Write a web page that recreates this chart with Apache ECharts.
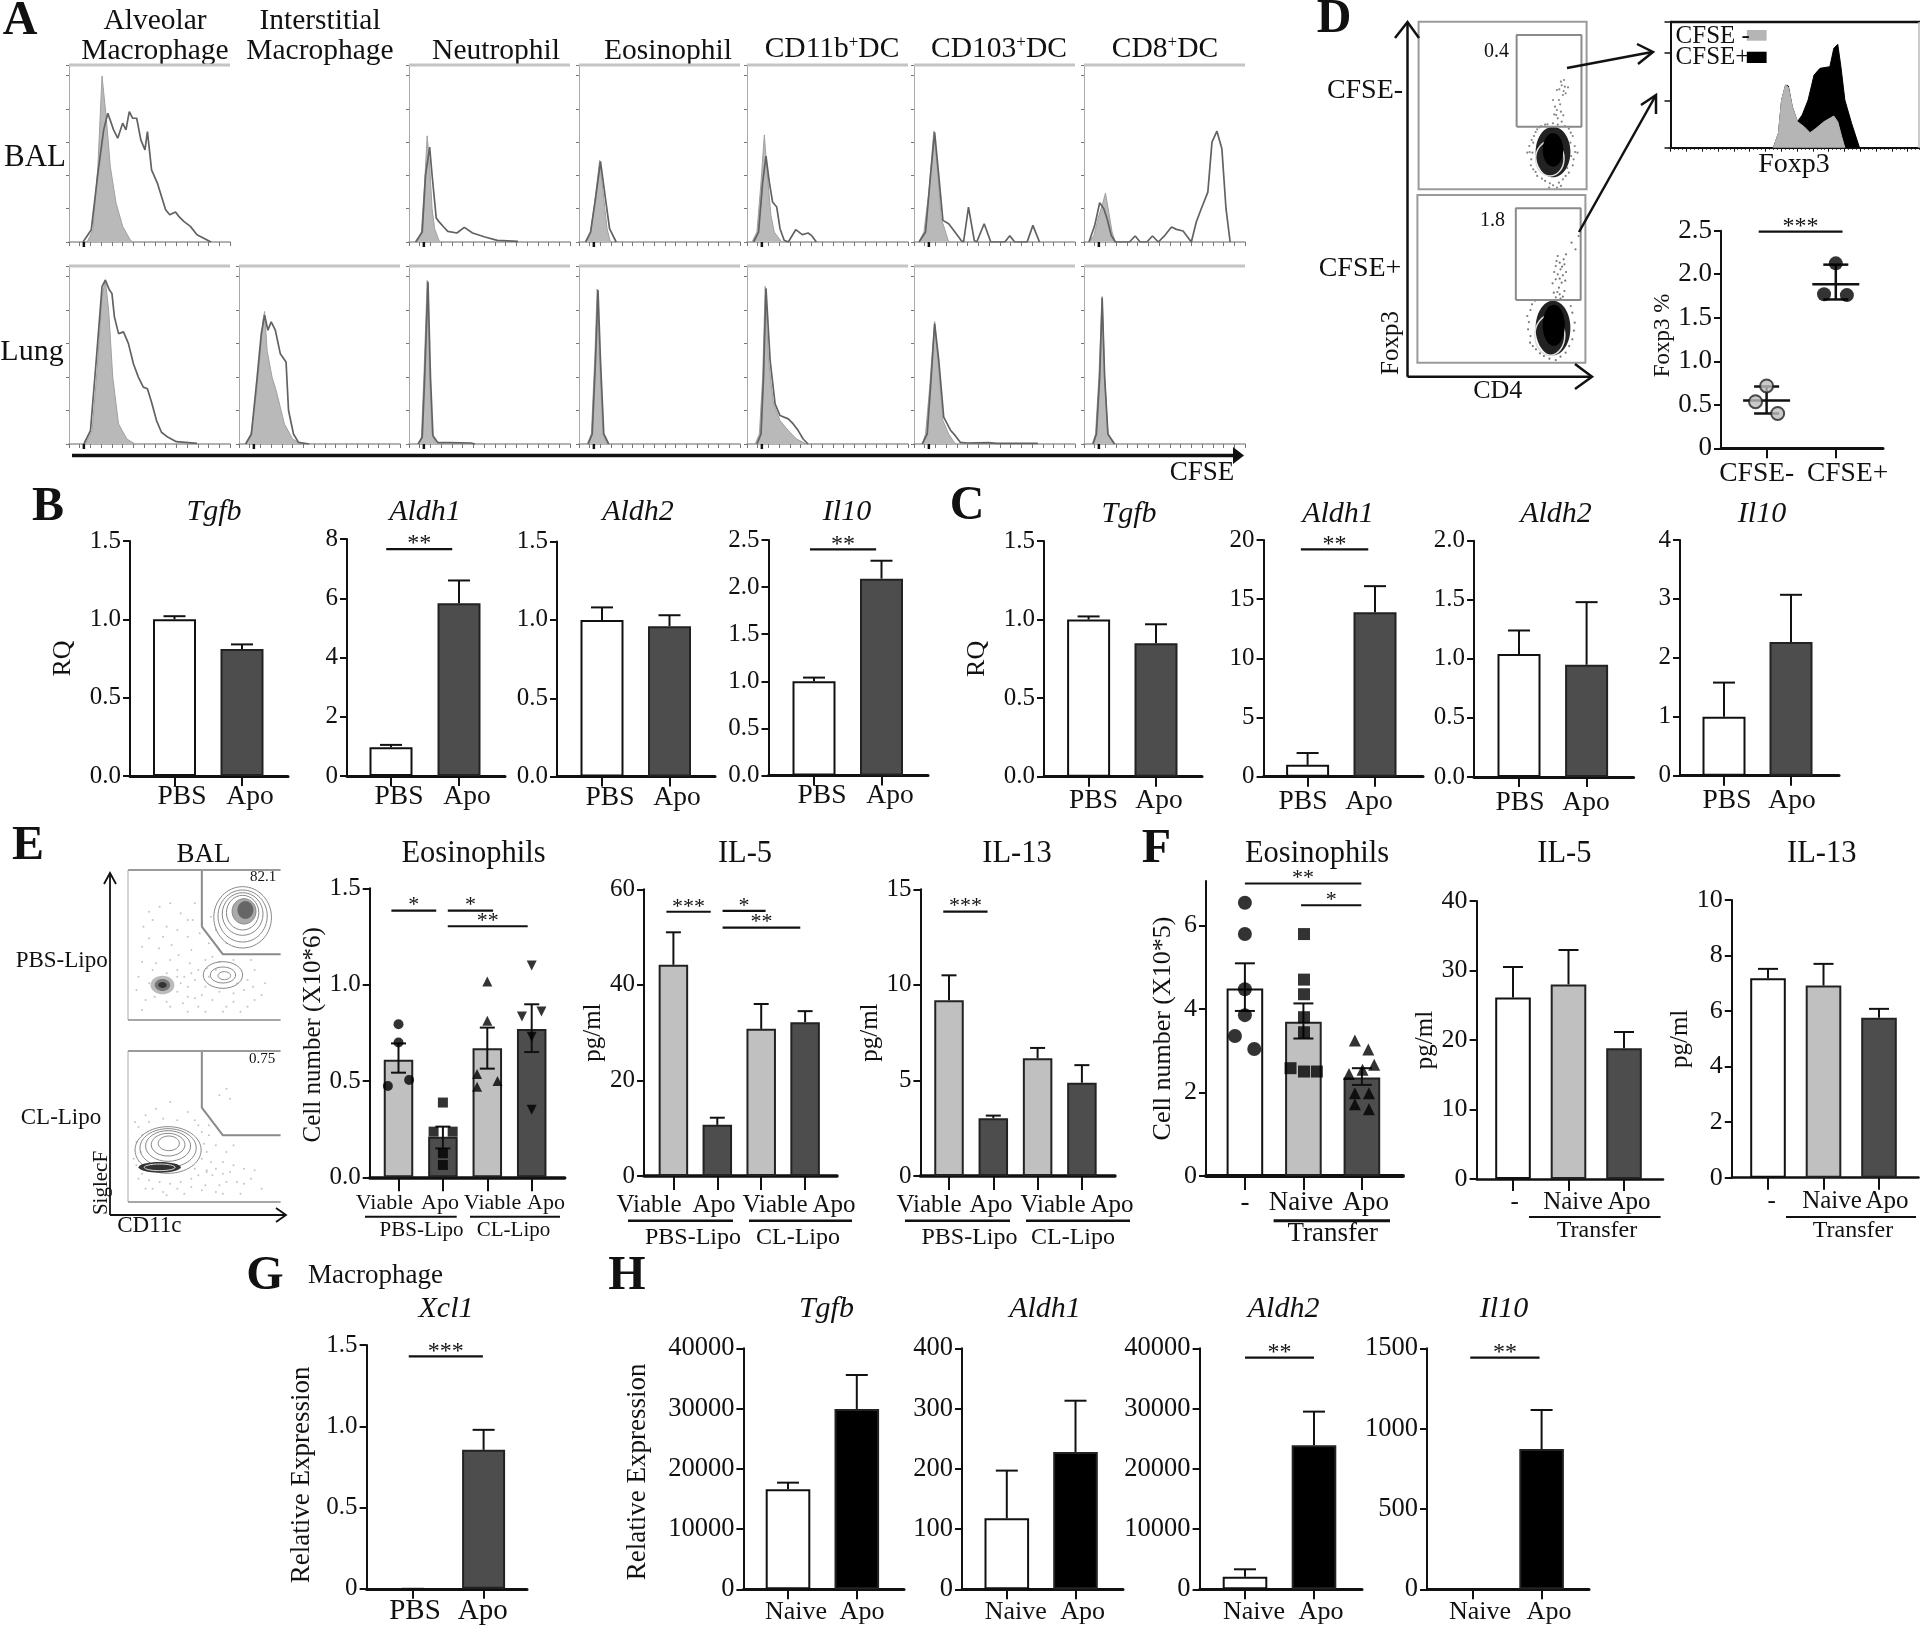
<!DOCTYPE html>
<html><head><meta charset="utf-8">
<script src="https://cdn.jsdelivr.net/npm/echarts@6/dist/echarts.min.js"></script>
<style>html,body{margin:0;padding:0;background:#fff}#c{width:1920px;height:1626px}</style>
</head><body><div id="c"></div>
<script>
// ---------- DATA: histograms, panel A ([channel, count]) ----------
const balAlveolarFill=[[22,0],[29,37],[35,227],[40,499],[45,377],[50,227],[57,117],[65,47],[74,7],[77,0]];
const balAlveolarLine=[[17,0],[27,37],[35,207],[42,337],[47,387],[54,337],[59,312],[65,357],[69,337],[73,392],[77,372],[82,372],[87,307],[92,277],[95,332],[100,217],[107,177],[117,97],[122,82],[129,90],[133,77],[139,62],[147,47],[155,22],[172,0]];
const balNeutroFill=[[10,0],[15,30],[19,180],[22,319],[25,230],[28,100],[31,40],[37,0]];
const balNeutroLine=[[8,0],[16,30],[20,200],[25,285],[28,200],[33,72],[36,62],[42,45],[47,32],[58,27],[67,44],[77,27],[92,15],[107,5],[132,2]];
const balEosFill=[[8,0],[14,30],[19,120],[25,245],[30,130],[34,40],[38,0]];
const balEosLine=[[8,0],[14,30],[20,130],[26,242],[31,150],[37,40],[45,0]];
const balCd11bFill=[[6,0],[12,30],[17,180],[21,322],[25,190],[29,80],[33,30],[42,0]];
const balCd11bLine=[[8,0],[14,30],[19,180],[23,258],[27,180],[31,120],[36,105],[40,40],[45,5],[50,0],[59,37],[67,22],[74,27],[78,20],[84,0]];
const balCd103Fill=[[6,0],[12,30],[18,150],[24,334],[29,200],[33,70],[37,40],[42,0]];
const balCd103Line=[[6,0],[14,30],[20,200],[25,330],[30,200],[35,65],[42,55],[48,35],[57,5],[60,0],[66,105],[73,5],[76,0],[85,55],[93,0],[110,0],[116,19],[122,0],[137,0],[144,50],[152,0]];
const balCd8Fill=[[6,0],[12,20],[18,80],[22,110],[26,147],[30,90],[34,30],[38,0]];
const balCd8Line=[[6,0],[13,50],[19,118],[24,100],[28,70],[33,20],[38,0],[55,0],[62,18],[68,0],[76,0],[83,18],[90,0],[98,20],[106,45],[112,38],[120,33],[130,0],[136,60],[142,100],[150,150],[155,300],[161,333],[167,280],[172,100],[177,0]];
const lungAlveolarFill=[[20,0],[28,40],[34,220],[40,440],[44,491],[48,400],[53,200],[60,60],[70,15],[80,0]];
const lungAlveolarLine=[[18,0],[26,40],[33,250],[40,470],[44,490],[49,460],[52,450],[55,380],[60,330],[66,335],[72,300],[78,240],[84,200],[90,170],[95,165],[100,125],[106,70],[112,35],[120,20],[130,7],[155,2]];
const lungInterFill=[[8,0],[14,20],[20,130],[25,250],[29,370],[31,396],[34,280],[40,200],[45,160],[55,60],[65,15],[75,0]];
const lungInterLine=[[8,0],[15,30],[22,200],[27,330],[31,385],[35,340],[39,365],[44,340],[50,270],[57,245],[60,100],[66,30],[72,5],[85,0]];
const lungNeutroFill=[[11,0],[15,20],[18,200],[22,489],[25,200],[28,30],[33,0]];
const lungNeutroLine=[[11,0],[16,20],[19,200],[23,485],[26,200],[29,25],[35,4],[50,4],[75,3],[80,0]];
const lungEosFill=[[10,0],[15,30],[19,250],[22,463],[25,250],[29,30],[34,0]];
const lungEosLine=[[11,0],[16,30],[20,250],[23,460],[26,250],[30,30],[36,0]];
const lungCd11bFill=[[10,0],[15,30],[19,200],[22,471],[26,250],[32,120],[40,70],[50,40],[60,15],[72,0]];
const lungCd11bLine=[[12,0],[17,30],[20,200],[23,465],[28,250],[34,120],[40,85],[50,75],[56,60],[62,40],[68,15],[74,0]];
const lungCd103Fill=[[10,0],[14,30],[19,170],[25,366],[30,220],[35,70],[42,30],[50,0]];
const lungCd103Line=[[10,0],[16,30],[20,170],[25,360],[30,250],[36,80],[44,42],[50,25],[56,5],[65,3],[90,4],[100,2],[120,2],[150,2]];
const lungCd8Fill=[[10,0],[14,30],[18,200],[22,441],[25,200],[29,30],[36,0]];
const lungCd8Line=[[11,0],[15,30],[19,200],[22,437],[25,200],[29,30],[37,0]];
// ---------- DATA: panel D ----------
const foxp3Gray=[[260,0],[273,43],[281,143],[291,188],[298,181],[308,123],[321,78],[338,63],[353,45],[368,58],[388,78],[413,95],[423,78],[433,33],[441,0]];
const foxp3Black=[[260,0],[273,43],[281,143],[291,188],[298,185],[308,123],[321,78],[333,98],[348,143],[363,218],[378,238],[403,243],[413,298],[423,310],[431,243],[441,143],[458,73],[478,0]];
const dFlowTopDots=[[360,323],[370,308],[350,298],[365,283],[355,268],[372,288],[345,248],[360,233],[352,213],[340,268],[368,328],[378,306],[348,223],[362,203],[356,300],[362,312],[367,295],[358,255],[350,238],[343,225],[366,222],[290,60],[285,90],[280,130],[292,160],[300,180],[385,170],[395,130],[392,90],[380,50],[365,30],[340,12],[320,25],[300,40],[310,190],[370,190],[340,198],[275,110],[402,110],[350,5],[330,5],[284,72],[281,112],[286,148],[296,172],[306,186],[320,194],[352,194],[380,182],[390,160],[396,112],[390,72],[372,40],[355,20],[332,18],[312,32],[296,52],[288,110],[290,140],[384,140],[386,100],[376,64],[326,195],[360,10]];
const dFlowBottomDots=[[355,320],[370,310],[360,300],[350,290],[372,295],[362,280],[355,265],[368,262],[350,250],[365,240],[358,225],[372,215],[345,210],[360,205],[400,340],[390,360],[408,380],[376,325],[352,305],[366,288],[376,272],[346,272],[360,252],[374,246],[342,238],[354,212],[368,198],[350,196],[362,192],[285,60],[280,100],[278,140],[290,175],[388,170],[398,120],[392,70],[375,30],[350,8],[320,20],[300,40],[286,80],[282,122],[286,158],[298,186],[392,150],[396,96],[384,50],[362,18],[334,12],[310,28],[292,50]];
const foxp3Ticks=[0,0.5,1,1.5,2,2.5], foxp3TickLabels=['0','0.5','1.0','1.5','2.0','2.5'];
const foxp3Neg=[[0.84,0.535],[1,0.716],[1.16,0.40]], foxp3Pos=[[1.83,1.77],[2,2.125],[2.16,1.76]];
const foxp3Means=[0.55,1.885], foxp3Hi=[0.71,2.11], foxp3Lo=[0.40,1.71];
// ---------- DATA: panels B, C ----------
const pbsApo=['PBS','Apo'];
const tick15=[0,0.5,1,1.5], tick15L=['0.0','0.5','1.0','1.5'];
const bTgfb=[1.0,0.81], bTgfbErr=[1.02,0.84];
const bAldh1=[0.97,5.83], bAldh1Err=[1.05,6.6], tick8=[0,2,4,6,8], tick8L=['0','2','4','6','8'];
const bAldh2=[1.0,0.96], bAldh2Err=[1.08,1.03];
const bIl10=[1.0,2.09], bIl10Err=[1.04,2.28], tick25=[0,0.5,1,1.5,2,2.5], tick25L=['0.0','0.5','1.0','1.5','2.0','2.5'];
const cTgfb=[1.0,0.85], cTgfbErr=[1.02,0.97];
const cAldh1=[1.0,13.9], cAldh1Err=[2.0,16.1], tick20=[0,5,10,15,20], tick20L=['0','5','10','15','20'];
const cAldh2=[1.04,0.95], cAldh2Err=[1.24,1.48], tick2=[0,0.5,1,1.5,2], tick2L=['0.0','0.5','1.0','1.5','2.0'];
const cIl10=[1.0,2.27], cIl10Err=[1.58,3.07], tick4=[0,1,2,3,4], tick4L=['0','1','2','3','4'];
// ---------- DATA: panels E, F ----------
const viableApo=['Viable','Apo','Viable','Apo'];
const eEos=[0.61,0.21,0.67,0.77], eEosHi=[0.695,0.263,0.777,0.898], eEosLo=[0.543,0.15,0.564,0.65];
const eEosP1=[[1,0.794],[1,0.70],[1.24,0.505],[0.76,0.474]];
const eEosP2=[[2,0.388],[2.22,0.237],[1.79,0.237],[2,0.125],[2,0.064]];
const eEosP3=[[3,1.016],[3,0.813],[2.77,0.536],[3.23,0.5],[2.77,0.47]];
const eEosP4=[[4,1.099],[3.78,0.834],[4.22,0.86],[4,0.73],[4,0.35]];
const eIl5=[44.2,10.7,30.8,32.2], eIl5Hi=[51,12.2,36,34.5];
const eIl13=[9.2,3.02,6.16,4.88], eIl13Hi=[10.5,3.16,6.7,5.8];
const dashNaiveApo=['-','Naive','Apo'];
const fEos=[4.49,3.69,2.36], fEosHi=[5.09,4.13,2.58], fEosLo=[3.95,3.29,2.18];
const fEosP1=[[1,6.54],[1,5.79],[1,4.47],[1,3.85],[0.83,3.35],[1.16,3.04]];
const fEosP2=[[2.01,5.79],[2.01,4.7],[2.01,4.35],[2.01,3.8],[2.01,3.44],[1.78,2.58],[2.01,2.5],[2.23,2.5]];
const fEosP3=[[2.88,3.24],[3.11,3.03],[3.21,2.66],[3.01,2.54],[2.78,2.44],[2.88,1.98],[3.12,1.98],[2.88,1.72],[3.12,1.6]];
const fIl5=[26.1,28,18.8], fIl5Hi=[30.5,32.95,21.15];
const fIl13=[7.18,6.92,5.76], fIl13Hi=[7.52,7.7,6.08];
const eFlowTopContours=[[163,308,41,92],[163,312,35,78],[163,318,29,64],[163,322,23,52],[165,326,17,38],[167,330,11,26],[168,335,5,12]];
const eFlowTopRing=[[135,135,28,40],[135,135,18,24],[137,133,9,12]];
const eFlowTopSpot=[[49,105,17,28],[49,105,11,18],[49,105,6,9]];
const eFlowTopDots=[[20,220],[35,300],[50,250],[60,180],[75,320],[90,210],[40,170],[15,130],[25,60],[60,40],[85,70],[100,150],[110,100],[120,60],[140,40],[150,80],[170,120],[180,60],[160,25],[75,110],[90,140],[100,40],[20,30],[45,340],[70,270],[95,350],[105,290],[115,230],[130,210],[140,230],[180,150],[195,110],[30,110],[70,85],[85,100],[120,190],[22,280],[30,245],[44,215],[55,280],[62,225],[72,195],[85,250],[92,300],[102,260],[110,180],[125,150],[115,130],[88,170],[70,150],[55,140],[35,150],[20,175],[12,90],[38,70],[55,55],[78,50],[95,65],[105,75],[130,85],[150,55],[165,90],[178,100],[190,75],[135,25],[110,25],[85,25],[70,130],[80,130],[95,120],[112,155],[130,175],[150,180],[175,180],[170,40],[155,110],[30,325],[60,350],[85,300],[125,270],[118,310]];
const eFlowBottomContours=[[57,156,47,70],[57,162,40,58],[57,168,32,46],[57,172,24,34],[58,176,15,22]];
const eFlowBottomSpot=[[45,104,30,16],[45,104,22,10]];
const eFlowBottomDots=[[10,240],[25,260],[40,280],[60,300],[85,270],[100,230],[115,200],[125,170],[135,120],[145,90],[155,60],[165,100],[120,80],[110,50],[90,45],[70,40],[50,30],[35,40],[15,70],[8,130],[130,50],[135,25],[175,70],[190,40],[130,320],[140,340],[145,310],[105,130],[95,100],[20,200],[140,150],[150,170],[12,180],[18,150],[12,110],[20,85],[30,65],[45,60],[60,55],[75,60],[90,70],[100,80],[112,95],[118,120],[112,150],[108,175],[112,90],[125,100],[135,85],[150,110],[165,55],[180,95],[15,225],[30,240],[50,250],[70,245],[95,245],[105,210],[115,230],[25,40],[55,20],[80,25],[105,35],[140,60],[125,30],[160,25]];
// ---------- DATA: panels G, H ----------
const naiveApo=['Naive','Apo'];
const gXcl1=[0,0.855], gXcl1Err=[0,0.978];
const hTgfb=[16600,29930], hTgfbErr=[17700,35570], tick40k=[0,10000,20000,30000,40000], tick40kL=['0','10000','20000','30000','40000'];
const hAldh1=[118,228], hAldh1Err=[197,313], tick400=[0,100,200,300,400], tick400L=['0','100','200','300','400'];
const hAldh2=[2100,23900], hAldh2Err=[3320,29490];
const hIl10=[0,873], hIl10Err=[0,1116], tick1500=[0,500,1000,1500], tick1500L=['0','500','1000','1500'];

// ---------- BUILD ----------
const FONT='"Liberation Serif"', INK='#111';
const WHITE='#ffffff', DARK='#4d4d4d', LIGHT='#c0c0c0', BLACK='#000000';
const option={animation:false,backgroundColor:'#fff',title:[],grid:[],xAxis:[],yAxis:[],series:[],graphic:[{elements:[]}]};
const G=option.graphic[0].elements;
function T(text,x,y,size,extra){extra=extra||{};
  G.push({type:'text',x,y,rotation:extra.rot||0,z:50,style:Object.assign({text,font:(extra.bold?'bold ':'')+(extra.italic?'italic ':'')+size+'px '+FONT,fill:INK,textAlign:extra.align||'center',textVerticalAlign:'middle'},extra.style||{})});}
function L(x1,y1,x2,y2,w,color){G.push({type:'line',z:40,shape:{x1,y1,x2,y2},style:{stroke:color||INK,lineWidth:w||2}});}
function P(points,w,color){G.push({type:'polyline',z:40,shape:{points},style:{stroke:color||INK,lineWidth:w||2,fill:null}});}
function Title(text,x,y,size,italic,rich){
  option.title.push({text,left:x,top:y,padding:0,textAlign:'center',textVerticalAlign:'middle',
    textStyle:{fontFamily:FONT,fontSize:size,fontWeight:'normal',fontStyle:italic?'italic':'normal',color:INK,lineHeight:30,rich:rich||undefined}});}

function errSeries(gi,rows,cap,hasLo,w){
  return {type:'custom',xAxisIndex:gi,yAxisIndex:gi,z:6,clip:false,silent:true,data:rows,encode:{x:0,y:1},
    renderItem:(p,api)=>{const x=api.value(0),a=api.coord([x,api.value(1)]),b=api.coord([x,api.value(2)]);
      const st={stroke:INK,lineWidth:w||2};
      const kids=[{type:'line',shape:{x1:a[0],y1:a[1],x2:b[0],y2:b[1]},style:st},
        {type:'line',shape:{x1:a[0]-cap/2,y1:a[1],x2:a[0]+cap/2,y2:a[1]},style:st}];
      if(hasLo)kids.push({type:'line',shape:{x1:b[0]-cap/2,y1:b[1],x2:b[0]+cap/2,y2:b[1]},style:st});
      return {type:'group',children:kids};}};
}
function barPanel(o){
  const gi=option.grid.length, sep=o.c[1]-o.c[0], unit=px=>1+(px-o.c[0])/sep;
  const fs=o.fs||27.5, tf=o.tf||25, s=o.nameShift||0;
  option.grid.push({left:o.ax,top:o.top,width:o.end-o.ax,height:o.base-o.top,containLabel:false});
  const xl=(o.labelPx).map(unit);
  option.xAxis.push({type:'value',gridIndex:gi,min:unit(o.ax),max:unit(o.end),splitLine:{show:false},
    axisLine:{show:true,onZero:false,lineStyle:{color:INK,width:o.xw||3}},
    axisTick:{show:true,length:o.xt||10,customValues:o.c.map(unit),lineStyle:{color:INK,width:2}},
    axisLabel:{show:true,customValues:xl,showMinLabel:true,showMaxLabel:true,margin:o.labelY-o.base-fs/2,verticalAlign:'top',
      fontFamily:FONT,fontSize:fs,color:INK,lineHeight:fs,
      formatter:v=>{let b=0;xl.forEach((u,i)=>{if(Math.abs(u-v)<Math.abs(xl[b]-v))b=i;});return o.labels[b];}}});
  option.yAxis.push({type:'value',gridIndex:gi,min:0,max:o.ymax,splitLine:{show:false},
    name:o.name||'',nameLocation:'middle',nameRotate:90,nameGap:o.nameGap||50,
    nameTextStyle:{fontFamily:FONT,fontSize:o.nameSize||24,color:INK,padding:s>0?[0,2*s,0,0]:[0,0,0,-2*s]},
    axisLine:{show:true,onZero:false,lineStyle:{color:INK,width:2}},
    axisTick:{show:true,length:7,customValues:o.ticks,lineStyle:{color:INK,width:2}},
    axisLabel:{show:true,customValues:o.ticks,showMinLabel:true,showMaxLabel:true,margin:9,fontFamily:FONT,fontSize:tf,color:INK,
      formatter:v=>{const i=o.ticks.findIndex(t=>Math.abs(t-v)<1e-9);return i<0?'':o.tickLabels[i];}}});
  if(o.values&&o.values.length){
    option.series.push({type:'bar',xAxisIndex:gi,yAxisIndex:gi,barWidth:o.barW,z:3,clip:false,silent:true,
      data:o.values.map((v,i)=>({value:[i+1,v],itemStyle:{color:o.colors[i],borderColor:v===0?'transparent':(o.colors[i]===WHITE?INK:'#222'),borderWidth:2}}))});
    option.series.push(errSeries(gi,o.values.map((v,i)=>[i+1,o.hi[i],o.lo?o.lo[i]:v]),o.cap||22,!!o.lo));
  }
  (o.points||[]).forEach(s=>{
    option.series.push({type:'scatter',xAxisIndex:gi,yAxisIndex:gi,z:8,clip:false,silent:true,data:s.data,symbol:s.symbol,symbolRotate:s.rot||0,symbolSize:s.size||o.psize||11,
      itemStyle:s.style||{color:BLACK}});});
  if(o.sig&&o.sig.length){
    option.series.push({type:'custom',xAxisIndex:gi,yAxisIndex:gi,z:9,clip:false,silent:true,data:o.sig.map(s=>[s[0],s[2]]),encode:{x:0,y:1},
      renderItem:(p,api)=>{const s=o.sig[p.dataIndex],a=api.coord([s[0],s[2]]),b=api.coord([s[1],s[2]]);
        return {type:'group',children:[{type:'line',shape:{x1:a[0],y1:a[1],x2:b[0],y2:b[1]},style:{stroke:INK,lineWidth:2.2}},
          {type:'text',style:{x:(a[0]+b[0])/2,y:a[1]-5,text:s[3],font:(o.sigSize||24)+'px '+FONT,fill:INK,textAlign:'center',textVerticalAlign:'middle'}}]};}});
  }
  return gi;
}
function hist(left,top,w,h,fill,line){
  const gi=option.grid.length;
  option.grid.push({left,top,width:w,height:h});
  option.xAxis.push({type:'value',gridIndex:gi,min:0,max:195,interval:13,splitLine:{show:false},axisLabel:{show:false},
    axisLine:{show:true,onZero:false,lineStyle:{color:'#999',width:1.5}},axisTick:{show:true,length:4,lineStyle:{color:'#777',width:1}}});
  option.yAxis.push({type:'value',gridIndex:gi,min:0,max:532,interval:100,splitLine:{show:false},axisLabel:{show:false},
    axisLine:{show:true,onZero:false,lineStyle:{color:'#aaa',width:1}},axisTick:{show:true,length:3,lineStyle:{color:'#777',width:1}}});
  option.series.push({type:'line',xAxisIndex:gi,yAxisIndex:gi,data:fill,showSymbol:false,silent:true,lineStyle:{color:'#a0a0a0',width:1},areaStyle:{color:'#b9b9b9',opacity:1},z:2});
  option.series.push({type:'line',xAxisIndex:gi,yAxisIndex:gi,data:line,showSymbol:false,silent:true,lineStyle:{color:'#626262',width:1.7},z:3});
  L(left,top,left+w,top,3,'#c4c4c4');
  L(left+18/195*w,top+h,left+18/195*w,top+h+5,2.5,INK);
}
function ellipseSeries(gi,rows,style,z){
  return {type:'custom',xAxisIndex:gi,yAxisIndex:gi,z,silent:true,clip:false,data:rows,encode:{x:0,y:1},
    renderItem:(p,api)=>{const c=api.coord([api.value(0),api.value(1)]),s=api.size([api.value(2),api.value(3)]);
      return {type:'ellipse',shape:{cx:c[0],cy:c[1],rx:s[0],ry:s[1]},style};}};
}
function flow(o){
  const gi=option.grid.length;
  option.grid.push({left:o.left,top:o.top,width:o.w,height:o.h});
  option.xAxis.push({type:'value',gridIndex:gi,min:0,max:o.xMax,show:false});
  option.yAxis.push({type:'value',gridIndex:gi,min:0,max:o.yMax,show:false});
  option.series.push({type:'scatter',xAxisIndex:gi,yAxisIndex:gi,data:o.dots,symbolSize:o.dotSize||2,silent:true,itemStyle:{color:o.dotColor||'#777'},z:2});
  (o.layers||[]).forEach((l,i)=>option.series.push(ellipseSeries(gi,l.rows,l.style,3+i)));
  if(o.gate)option.series.push({type:'line',xAxisIndex:gi,yAxisIndex:gi,data:o.gate,showSymbol:false,silent:true,lineStyle:{color:'#8a8a8a',width:2},z:20,clip:false});
  return gi;
}
// Panel A
const histX=[69,239,409,579,747,914,1084], histW=161;
[[0,balAlveolarFill,balAlveolarLine],[2,balNeutroFill,balNeutroLine],[3,balEosFill,balEosLine],[4,balCd11bFill,balCd11bLine],[5,balCd103Fill,balCd103Line],[6,balCd8Fill,balCd8Line]].forEach(r=>hist(histX[r[0]],65,histW,177,r[1],r[2]));
[[0,lungAlveolarFill,lungAlveolarLine],[1,lungInterFill,lungInterLine],[2,lungNeutroFill,lungNeutroLine],[3,lungEosFill,lungEosLine],[4,lungCd11bFill,lungCd11bLine],[5,lungCd103Fill,lungCd103Line],[6,lungCd8Fill,lungCd8Line]].forEach(r=>hist(histX[r[0]],266,histW,178,r[1],r[2]));
const supRich={a:{fontFamily:FONT,fontSize:29.5,color:INK},s:{fontFamily:FONT,fontSize:17,color:INK,verticalAlign:'top',padding:[0,0,8,0]}};
Title('Alveolar\nMacrophage',155,36,29.5);Title('Interstitial\nMacrophage',320,36,29.5);
Title('Neutrophil',496,51,29.5);Title('Eosinophil',668,51,29.5);
Title('{a|CD11b}{s|+}{a|DC}',832,49,29.5,false,supRich);Title('{a|CD103}{s|+}{a|DC}',999,49,29.5,false,supRich);Title('{a|CD8}{s|+}{a|DC}',1165,49,29.5,false,supRich);
T('BAL',35,158,31);T('Lung',32,352,30);T('CFSE',1202,473,27);
L(72,455.5,1234,455.5,3.5);
G.push({type:'polygon',z:40,shape:{points:[[1233,447],[1244,455.5],[1233,464]]},style:{fill:INK}});
// Panel D
flow({left:1418.6,top:21.7,w:168,h:167.6,xMax:425,yMax:503,dots:dFlowTopDots,dotColor:'#666',dotSize:2.2,gate:[[248,188],[412,188],[412,463],[248,463],[248,188]],
  layers:[{rows:[[340,112,44,76]],style:{fill:'#222',stroke:null}},{rows:[[332,92,36,52]],style:{fill:null,stroke:'#ddd',lineWidth:1.5}},{rows:[[340,118,26,50]],style:{fill:'#000'}}]});
flow({left:1417.4,top:195,w:168,h:167.7,xMax:425,yMax:503,dots:dFlowBottomDots,dotColor:'#555',dotSize:2.2,gate:[[249,188],[413,188],[413,463],[249,463],[249,188]],
  layers:[{rows:[[343,104,44,82]],style:{fill:'#222'}},{rows:[[335,82,38,60]],style:{fill:null,stroke:'#ddd',lineWidth:1.5}},{rows:[[345,112,28,62]],style:{fill:'#000'}}]});
G.push({type:'rect',z:30,shape:{x:1418.6,y:21.7,width:168,height:167.6},style:{fill:null,stroke:'#9a9a9a',lineWidth:2}});
G.push({type:'rect',z:30,shape:{x:1417.4,y:195,width:168,height:167.7},style:{fill:null,stroke:'#9a9a9a',lineWidth:2}});
L(1407.5,376.7,1407.5,23,2.5);L(1407.5,376.7,1592,376.7,2.5);
P([[1395,38],[1407.5,22],[1419,38]],2.5);P([[1575,364],[1592,376.7],[1575,389]],2.5);
L(1567,68,1652,52,2.5);P([[1637,44],[1653,52],[1638,64]],2.5);
L(1579,232,1656,95,2.5);P([[1641,105],[1656,95],[1656,114]],2.5);
T('0.4',1496.5,52,20);T('1.8',1492.5,221,20);T('CFSE-',1365,91,28);T('CFSE+',1360,269,28);
T('Foxp3',1391.7,343,25,{rot:Math.PI/2});T('CD4',1497.7,391,26);
// D histogram
(function(){const gi=option.grid.length;
  option.grid.push({left:1670.5,top:21.7,width:249.5,height:126});
  option.xAxis.push({type:'value',gridIndex:gi,min:0,max:631,interval:40,splitLine:{show:false},axisLabel:{show:false},
    axisLine:{show:true,onZero:false,lineStyle:{color:INK,width:2}},axisTick:{show:true,length:4,lineStyle:{color:INK,width:1}},
    minorTick:{show:true,splitNumber:4,length:2,lineStyle:{color:INK,width:1}}});
  option.yAxis.push({type:'value',gridIndex:gi,min:0,max:378,interval:142,splitLine:{show:false},axisLabel:{show:false},
    axisLine:{show:true,onZero:false,lineStyle:{color:INK,width:2}},axisTick:{show:true,length:6,lineStyle:{color:INK,width:1.5}}});
  option.series.push({type:'line',xAxisIndex:gi,yAxisIndex:gi,data:foxp3Black,showSymbol:false,silent:true,lineStyle:{color:BLACK,width:1},areaStyle:{color:BLACK,opacity:1},z:2});
  option.series.push({type:'line',xAxisIndex:gi,yAxisIndex:gi,data:foxp3Gray,showSymbol:false,silent:true,lineStyle:{color:'#b5b5b5',width:1},areaStyle:{color:'#b5b5b5',opacity:1},z:3});
  L(1670.5,22,1920,22,2.5);L(1919,22,1919,148,1.5,'#bbb');
})();
G.push({type:'rect',z:40,shape:{x:1746.8,y:30,width:19.8,height:10.7},style:{fill:'#b5b5b5'}});
G.push({type:'rect',z:40,shape:{x:1746.8,y:51.7,width:19.8,height:11.3},style:{fill:BLACK}});
T('CFSE -',1675.6,36.7,25,{align:'left'});T('CFSE+',1675.6,57,25,{align:'left'});
T('Foxp3',1794,165,28);
// D scatter
const dGi=barPanel({ax:1721,top:230.7,base:448.3,end:1883,c:[1766.6,1835.8],ymax:2.5,ticks:foxp3Ticks,tickLabels:foxp3TickLabels,labels:['CFSE-','CFSE+'],labelPx:[1756.7,1847.6],labelY:474,fs:27.5,tf:27,
  name:'Foxp3 %',nameGap:40,nameSize:23,nameShift:-4,sig:[[0.886,2.097,2.49,'***']],
  points:[{data:foxp3Neg,symbol:'circle',size:13,style:{color:'#bdbdbd',borderColor:'#222',borderWidth:2}},{data:foxp3Pos,symbol:'circle',size:14,style:{color:BLACK}}]});
option.series.push(errSeries(dGi,[[1,foxp3Hi[0],foxp3Lo[0]],[2,foxp3Hi[1],foxp3Lo[1]]],25,true,2.5));
option.series.push(errSeries(dGi,[[1,foxp3Means[0],foxp3Means[0]],[2,foxp3Means[1],foxp3Means[1]]],47,false,2.5));
// Panel B
const twoTone=[WHITE,DARK], whiteBlack=[WHITE,BLACK];
barPanel({ax:130,top:541,base:776,end:288,c:[174.5,242],ymax:1.5,ticks:tick15,tickLabels:tick15L,values:bTgfb,hi:bTgfbErr,colors:twoTone,barW:43,labels:pbsApo,labelPx:[182,250],labelY:797,name:'RQ',nameGap:54,nameSize:26});
barPanel({ax:347,top:539,base:776,end:505,c:[391,459],ymax:8,ticks:tick8,tickLabels:tick8L,values:bAldh1,hi:bAldh1Err,colors:twoTone,barW:43,labels:pbsApo,labelPx:[399,467],labelY:797,sig:[[0.93,1.90,7.66,'**']]});
barPanel({ax:557,top:541.6,base:776.6,end:715,c:[602,669.5],ymax:1.5,ticks:tick15,tickLabels:tick15L,values:bAldh2,hi:bAldh2Err,colors:twoTone,barW:43,labels:pbsApo,labelPx:[610,677],labelY:798});
barPanel({ax:768.5,top:540,base:775.6,end:928,c:[814,881.5],ymax:2.5,ticks:tick25,tickLabels:tick25L,values:bIl10,hi:bIl10Err,colors:twoTone,barW:43,labels:pbsApo,labelPx:[822,890],labelY:796,sig:[[0.94,1.92,2.40,'**']]});
Title('Tgfb',214,512,30,true);Title('Aldh1',425,512,30,true);Title('Aldh2',638,512,30,true);Title('Il10',847,512,30,true);
// Panel C
barPanel({ax:1044,top:541,base:776.7,end:1202,c:[1088.6,1156],ymax:1.5,ticks:tick15,tickLabels:tick15L,values:cTgfb,hi:cTgfbErr,colors:twoTone,barW:43,labels:pbsApo,labelPx:[1093.5,1159],labelY:801,name:'RQ',nameGap:54,nameSize:26});
barPanel({ax:1263.6,top:540,base:776.7,end:1423,c:[1307.6,1375],ymax:20,ticks:tick20,tickLabels:tick20L,values:cAldh1,hi:cAldh1Err,colors:twoTone,barW:43,labels:pbsApo,labelPx:[1303,1369],labelY:802,sig:[[0.90,1.90,19.2,'**']]});
barPanel({ax:1474,top:540.7,base:777,end:1633.6,c:[1519,1586.6],ymax:2,ticks:tick2,tickLabels:tick2L,values:cAldh2,hi:cAldh2Err,colors:twoTone,barW:43,labels:pbsApo,labelPx:[1520,1586],labelY:803});
barPanel({ax:1680,top:540,base:775.7,end:1839,c:[1724,1791],ymax:4,ticks:tick4,tickLabels:tick4L,values:cIl10,hi:cIl10Err,colors:twoTone,barW:43,labels:pbsApo,labelPx:[1727,1792],labelY:801});
Title('Tgfb',1129,514,30,true);Title('Aldh1',1338,514,30,true);Title('Aldh2',1556,514,30,true);Title('Il10',1762,514,30,true);
// Panel E flow
const ring={fill:null,stroke:'#888',lineWidth:1};
flow({left:128,top:870,w:152.6,h:150,xMax:217,yMax:450,dots:eFlowTopDots,dotColor:'#b5b5b5',dotSize:2,gate:[[105,450],[105,280],[135,197],[217,197]],
  layers:[{rows:eFlowTopSpot.slice(0,1),style:{fill:'#bbb'}},{rows:eFlowTopSpot.slice(1,2),style:{fill:'#777'}},{rows:eFlowTopSpot.slice(2),style:{fill:'#333'}},
    {rows:eFlowTopRing,style:ring},{rows:eFlowTopContours.slice(4,5),style:{fill:'#aaa'}},{rows:eFlowTopContours,style:ring},{rows:eFlowTopContours.slice(5),style:{fill:'#666'}}]});
flow({left:128,top:1051,w:152.6,h:151,xMax:217,yMax:453,dots:eFlowBottomDots,dotColor:'#b5b5b5',dotSize:2,gate:[[105,453],[105,283],[135,200],[217,200]],
  layers:[{rows:eFlowBottomContours,style:ring},{rows:eFlowBottomSpot.slice(0,1),style:{fill:'#333'}},{rows:eFlowBottomSpot.slice(1),style:{fill:null,stroke:'#ddd',lineWidth:1}}]});
[[870,1020],[1051,1202]].forEach(r=>{L(128,r[0],280.6,r[0],2,'#9a9a9a');L(128,r[0],128,r[1],1,'#aaa');L(128,r[1],280.6,r[1],1.5,'#888');});
T('82.1',263,877,15);T('0.75',262,1059,15);
L(110,1215,110,874,1.8);L(110,1215,286,1215,1.8);P([[104,884],[110,873],[116,884]],1.8);P([[276,1208],[286,1215],[276,1222]],1.8);
T('BAL',203.4,855,27);T('PBS-Lipo',61.7,961,23);T('CL-Lipo',61,1118,23);T('SiglecF',101.7,1183,21,{rot:Math.PI/2});T('CD11c',149.4,1226,23);
// Panel E bars
const fourTone=[LIGHT,DARK,LIGHT,DARK], threeTone=[WHITE,LIGHT,DARK];
barPanel({ax:369.7,top:888.3,base:1177.3,end:564.7,c:[398.5,442.9,487.3,531.7],ymax:1.5,ticks:tick15,tickLabels:tick15L,values:eEos,hi:eEosHi,lo:eEosLo,colors:fourTone,barW:29.5,cap:15,xw:3.5,xt:14,
  labels:viableApo,labelPx:[384.4,440,492.5,546],labelY:1203,fs:22,name:'Cell number (X10*6)',nameGap:44,nameSize:25,nameShift:2,psize:10,sigSize:22,
  sig:[[0.84,1.85,1.384,'*'],[2.11,3.13,1.384,'*'],[2.11,3.91,1.303,'**']],
  points:[{data:eEosP1,symbol:'circle'},{data:eEosP2,symbol:'rect'},{data:eEosP3,symbol:'triangle'},{data:eEosP4,symbol:'triangle',rot:180}]});
barPanel({ax:644,top:889.3,base:1176,end:837,c:[673.4,717.3,761.2,805],ymax:60,ticks:[0,20,40,60],tickLabels:['0','20','40','60'],values:eIl5,hi:eIl5Hi,colors:fourTone,barW:29.5,cap:15,xw:3.5,xt:14,
  labels:viableApo,labelPx:[649,714,775,834],labelY:1205,fs:25,name:'pg/ml',nameGap:36,nameSize:25,sigSize:22,
  sig:[[0.84,1.85,55.3,'***'],[2.12,3.1,55.5,'*'],[2.12,3.89,52,'**']]});
barPanel({ax:920.4,top:889.3,base:1176,end:1115,c:[949,993.3,1037.6,1082],ymax:15,ticks:[0,5,10,15],tickLabels:['0','5','10','15'],values:eIl13,hi:eIl13Hi,colors:fourTone,barW:29.5,cap:15,xw:3.5,xt:14,
  labels:viableApo,labelPx:[929,991,1053,1112],labelY:1205,fs:25,name:'pg/ml',nameGap:35,nameSize:25,sigSize:22,
  sig:[[0.87,1.87,13.83,'***']]});
Title('Eosinophils',473.5,854,30.5);Title('IL-5',745,854,30.5);Title('IL-13',1017,854,30.5);
L(365,1216.7,456.7,1216.7,2);L(470,1216.7,560,1216.7,2);T('PBS-Lipo',421.6,1230,21);T('CL-Lipo',513.5,1230,21);
L(628,1220.7,733,1220.7,2.5);L(749,1220.7,852,1220.7,2.5);T('PBS-Lipo',693,1238,24);T('CL-Lipo',798,1238,24);
L(905,1220.7,1010,1220.7,2.5);L(1026,1220.7,1130,1220.7,2.5);T('PBS-Lipo',969.5,1238,24);T('CL-Lipo',1073,1238,24);
// Panel F
barPanel({ax:1206,top:881,base:1176,end:1403,c:[1244.9,1303.4,1362],ymax:7.06,ticks:[0,2,4,6],tickLabels:['0','2','4','6'],values:fEos,hi:fEosHi,lo:fEosLo,colors:threeTone,barW:36.6,cap:20,xw:4,xt:14,tf:26,
  labels:dashNaiveApo,labelPx:[1245,1301,1365.7],labelY:1203,fs:27,name:'Cell number (X10*5)',nameGap:30,nameSize:26,psize:14,sigSize:22,
  sig:[[1,2.99,7.0,'**'],[1.96,2.99,6.48,'*']],
  points:[{data:fEosP1,symbol:'circle'},{data:fEosP2,symbol:'rect',size:12},{data:fEosP3,symbol:'triangle',size:12}]});
barPanel({ax:1476.6,top:901,base:1179,end:1663,c:[1513,1568.5,1624],ymax:40,ticks:[0,10,20,30,40],tickLabels:['0','10','20','30','40'],values:fIl5,hi:fIl5Hi,colors:threeTone,barW:35.6,cap:20,xw:2.5,xt:12,tf:26,
  labels:dashNaiveApo,labelPx:[1514.7,1573,1629],labelY:1202,fs:25,name:'pg/ml',nameGap:35,nameSize:25});
barPanel({ax:1731.8,top:900,base:1177.7,end:1918.5,c:[1768,1823.5,1879],ymax:10,ticks:[0,2,4,6,8,10],tickLabels:['0','2','4','6','8','10'],values:fIl13,hi:fIl13Hi,colors:threeTone,barW:35.6,cap:20,xw:2.5,xt:12,tf:26,
  labels:dashNaiveApo,labelPx:[1771.6,1832,1887],labelY:1201,fs:25,name:'pg/ml',nameGap:30,nameSize:25});
Title('Eosinophils',1317,854,30.5);Title('IL-5',1564.4,854,30.5);Title('IL-13',1821.7,854,30.5);
L(1273.6,1220.7,1390,1220.7,3);T('Transfer',1332.7,1234,27);
L(1529,1217,1660.6,1217,2.2);T('Transfer',1597,1231,24);
L(1786,1217,1916,1217,2.2);T('Transfer',1853,1231,24);
// Panel G
barPanel({ax:366.6,top:1345,base:1589.3,end:527,c:[413,483.6],ymax:1.5,ticks:tick15,tickLabels:['0','0.5','1.0','1.5'],values:gXcl1,hi:gXcl1Err,colors:twoTone,barW:43,xt:10,
  labels:pbsApo,labelPx:[415,482.7],labelY:1612,fs:29,name:'Relative Expression',nameGap:51,nameSize:27,nameShift:8,sig:[[0.94,1.99,1.43,'***']]});
T('Macrophage',375.5,1276,27);Title('Xcl1',446,1309,30,true);
// Panel H
const hBase={top:1348.3,base:1589.3,ymax:0,colors:whiteBlack,barW:44.6,labels:naiveApo,labelY:1612,fs:26,tf:26.5,xt:10,cap:22};
barPanel(Object.assign({},hBase,{ax:743.4,end:904,c:[788,856.8],ymax:40000,ticks:tick40k,tickLabels:tick40kL,values:hTgfb,hi:hTgfbErr,labelPx:[796,862],name:'Relative Expression',nameGap:92,nameSize:27,nameShift:3}));
barPanel(Object.assign({},hBase,{ax:962,end:1123,c:[1006.8,1075.5],ymax:400,ticks:tick400,tickLabels:tick400L,values:hAldh1,hi:hAldh1Err,labelPx:[1015.7,1082.7]}));
barPanel(Object.assign({},hBase,{ax:1199.6,end:1362,c:[1245,1314],ymax:40000,ticks:tick40k,tickLabels:tick40kL,values:hAldh2,hi:hAldh2Err,labelPx:[1254,1321],sig:[[1,2,38450,'**']]}));
barPanel(Object.assign({},hBase,{ax:1427,end:1589,c:[1473,1541.6],ymax:1500,ticks:tick1500,tickLabels:tick1500L,values:hIl10,hi:hIl10Err,labelPx:[1480,1549],sig:[[0.96,1.97,1442,'**']]}));
Title('Tgfb',826.4,1309,30,true);Title('Aldh1',1045,1309,30,true);Title('Aldh2',1283.6,1309,30,true);Title('Il10',1504,1309,30,true);
// Panel letters
[['A',20,22],['B',48,508],['C',967,507],['D',1334,20],['E',28,847],['F',1156.5,850],['G',265,1277],['H',627,1277]].forEach(a=>T(a[0],a[1],a[2],48,{bold:true}));

const chart=echarts.init(document.getElementById('c'),null,{renderer:'canvas',width:1920,height:1626});
chart.setOption(option);
</script></body></html>
